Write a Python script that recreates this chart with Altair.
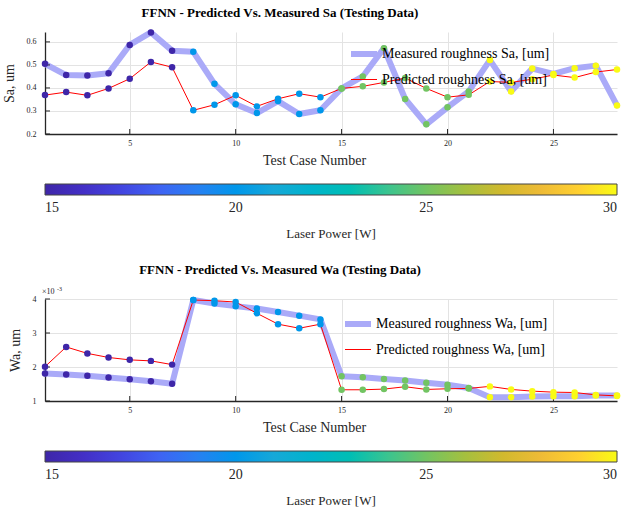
import altair as alt
import pandas as pd

FONT = "Liberation Serif"

# ---------------- data ----------------
cases = [1, 2, 3, 4, 5, 6, 7, 8, 9, 10, 11, 12, 13, 14,
         15, 16, 17, 18, 19, 20, 21, 22, 23, 24, 25, 26, 27, 28]
laser_power = [15, 15, 15, 15, 15, 15, 15,
               20, 20, 20, 20, 20, 20, 20,
               25, 25, 25, 25, 25, 25, 25,
               30, 30, 30, 30, 30, 30, 30]

sa_measured = [0.505, 0.456, 0.454, 0.464, 0.587, 0.641, 0.562,
               0.557, 0.418, 0.329, 0.291, 0.343, 0.287, 0.303,
               0.398, 0.450, 0.573, 0.352, 0.242, 0.316, 0.385,
               0.521, 0.385, 0.484, 0.461, 0.486, 0.497, 0.324]
sa_predicted = [0.369, 0.382, 0.368, 0.398, 0.440, 0.513, 0.490,
                0.303, 0.327, 0.368, 0.320, 0.353, 0.375, 0.360,
                0.398, 0.407, 0.424, 0.443, 0.398, 0.360, 0.370,
                0.428, 0.424, 0.438, 0.456, 0.445, 0.469, 0.480]

# Wa values shown in units of 1e-3 um (axis carries the x10^-3 multiplier)
wa_measured = [1.81, 1.78, 1.74, 1.69, 1.64, 1.58, 1.51,
               3.97, 3.87, 3.79, 3.72, 3.62, 3.51, 3.40,
               1.73, 1.70, 1.65, 1.60, 1.54, 1.48, 1.38,
               1.11, 1.11, 1.13, 1.14, 1.14, 1.16, 1.16]
wa_predicted = [2.01, 2.59, 2.40, 2.28, 2.21, 2.18, 2.07,
                3.97, 3.95, 3.91, 3.58, 3.26, 3.14, 3.26,
                1.33, 1.33, 1.35, 1.42, 1.34, 1.36, 1.37,
                1.43, 1.34, 1.29, 1.26, 1.25, 1.18, 1.15]

x_ticks = [5, 10, 15, 20, 25]
sa_ticks = [0.2, 0.3, 0.4, 0.5, 0.6]
wa_ticks = [1, 2, 3, 4]
power_ticks = [15, 20, 25, 30]

# parula-like colormap stops
cmap_domain = [15, 16.5, 18, 19.5, 21, 22.5, 24, 25.5, 27, 28.5, 30]
cmap_range = ["#3e26a8", "#4434d6", "#3f63f3", "#2c8cef", "#16a8d8", "#06b9c2",
              "#3bc48f", "#8ec24c", "#d1b92e", "#fdbc3c", "#f9fb14"]

MEAS_COLOR = "#aaaaf8"
PRED_COLOR = "#ff0000"
AX_COLOR = "#262626"


def panel(measured, predicted, m_label, p_label, ydomain, yticks, ytitle,
          title_text, leg_x, leg_y, yfmt, multiplier=False):
    rows = []
    for c, pw, mv, pv in zip(cases, laser_power, measured, predicted):
        rows.append(dict(case=c, power=pw, series=m_label, value=mv, k=0))
        rows.append(dict(case=c, power=pw, series=p_label, value=pv, k=1))
    df = pd.DataFrame(rows)

    xscale = alt.Scale(domain=[1, 28], nice=False, zero=False)
    yscale = alt.Scale(domain=ydomain, nice=False, zero=False)
    xaxis = alt.Axis(values=x_ticks, format="d", title="Test Case Number",
                     titleX=269, labelPadding=5, titlePadding=6)
    yaxis = alt.Axis(values=yticks, format=yfmt, title=ytitle,
                     labelPadding=9, titlePadding=10)
    x = alt.X("case:Q", scale=xscale, axis=xaxis)
    y = alt.Y("value:Q", scale=yscale, axis=yaxis)

    series_legend = alt.Legend(title=None, orient="none", legendX=leg_x, legendY=leg_y,
                               symbolType="stroke", symbolSize=676, rowPadding=-3,
                               labelFont=FONT, labelFontSize=14, labelColor="black",
                               labelLimit=400, labelOffset=2)
    base = alt.Chart(df)
    lines = base.mark_line(strokeJoin="round", strokeCap="round").encode(
        x=x, y=y,
        color=alt.Color("series:N",
                        scale=alt.Scale(domain=[m_label, p_label], range=[MEAS_COLOR, PRED_COLOR]),
                        legend=series_legend),
        strokeWidth=alt.StrokeWidth("series:N",
                                    scale=alt.Scale(domain=[m_label, p_label], range=[6, 1]),
                                    legend=series_legend),
    )
    points = base.mark_circle(size=42, opacity=1).encode(
        x=x, y=y,
        color=alt.Color("power:Q",
                        scale=alt.Scale(domain=cmap_domain, range=cmap_range),
                        legend=alt.Legend(orient="none", legendX=0, legendY=152,
                                          direction="horizontal", gradientLength=572,
                                          gradientThickness=11, values=power_ticks,
                                          title="Laser Power [W]", titleOrient="bottom",
                                          titleAnchor="middle", titleFont=FONT,
                                          titleFontSize=13, titleFontWeight="normal",
                                          titleColor=AX_COLOR, titlePadding=13,
                                          labelFont=FONT, labelFontSize=14,
                                          labelColor=AX_COLOR, labelAlign="center",
                                          labelOffset=6, labelOverlap=False,
                                          gradientStrokeColor="#444444",
                                          gradientStrokeWidth=1, padding=0)),
        order="k:Q",
    )
    # inward tick marks (MATLAB style), placed at the tick values
    xtick_marks = alt.Chart(pd.DataFrame({"t": x_ticks})).mark_rule(
        color=AX_COLOR, strokeWidth=1
    ).encode(x=alt.X("t:Q", scale=xscale, axis=xaxis), y=alt.value(102), y2=alt.value(97))
    ytick_marks = alt.Chart(pd.DataFrame({"t": yticks})).mark_rule(
        color=AX_COLOR, strokeWidth=1
    ).encode(y=alt.Y("t:Q", scale=yscale, axis=yaxis), x=alt.value(0), x2=alt.value(5))

    layers = [lines, xtick_marks, ytick_marks, points]
    if multiplier:
        mult = alt.Chart(pd.DataFrame({"t": ["\u00d710"]})).mark_text(
            font=FONT, fontSize=8, align="left", baseline="alphabetic", color=AX_COLOR
        ).encode(text="t:N", x=alt.value(-3), y=alt.value(-5))
        exp = alt.Chart(pd.DataFrame({"t": ["-3"]})).mark_text(
            font=FONT, fontSize=6, align="left", baseline="alphabetic", color=AX_COLOR
        ).encode(text="t:N", x=alt.value(12), y=alt.value(-8))
        layers += [mult, exp]
    return alt.layer(*layers).resolve_scale(
        color="independent", strokeWidth="independent"
    ).resolve_legend(color="independent", strokeWidth="independent").properties(
        width=572, height=102,
        title=alt.TitleParams(title_text, font=FONT, fontSize=13, fontWeight="bold",
                              color="black", anchor="middle", dx=-51, offset=9),
    )


top = panel(sa_measured, sa_predicted,
            "Measured roughness Sa, [um]", "Predicted roughness Sa, [um]",
            [0.2, 0.643], sa_ticks, "Sa, um",
            "FFNN - Predicted Vs. Measured Sa (Testing Data)", 303, 6, ".1f")
bottom = panel(wa_measured, wa_predicted,
               "Measured roughness Wa, [um]", "Predicted roughness Wa, [um]",
               [1, 4], wa_ticks, "Wa, um",
               "FFNN - Predicted Vs. Measured Wa (Testing Data)", 297, 9, "d",
               multiplier=True)

chart = alt.vconcat(top, bottom, spacing=23).resolve_scale(
    color="independent", strokeWidth="independent"
).resolve_legend(color="independent", strokeWidth="independent").properties(
    padding={"left": 2, "top": 7, "right": 0, "bottom": 0},
    background="white",
).configure_view(stroke=None).configure_axis(
    labelFont=FONT, labelFontSize=8, labelColor=AX_COLOR,
    titleFont=FONT, titleFontSize=14, titleFontWeight="normal", titleColor=AX_COLOR,
    domainColor=AX_COLOR, domainWidth=1.3, gridColor="#e3e3e3", gridWidth=1,
    ticks=False, tickSize=0,
).configure_legend(labelFont=FONT, titleFont=FONT)

chart.save("out.html", embed_options={"renderer": "svg", "actions": False})
